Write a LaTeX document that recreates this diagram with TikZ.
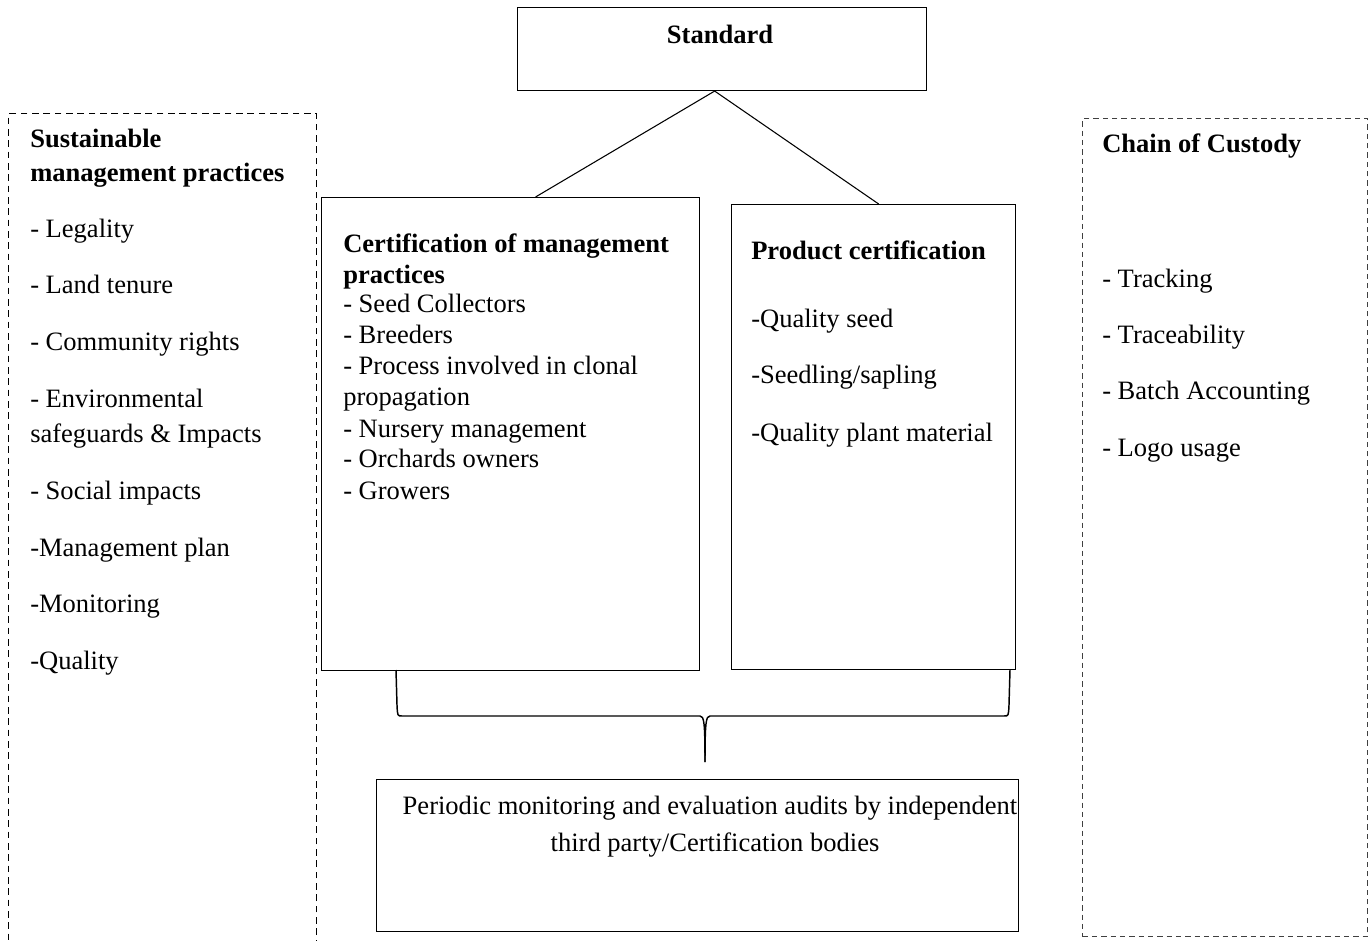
\documentclass[tikz,border=0pt]{standalone}
\usepackage{fontspec}
\setmainfont{Liberation Serif}
\usetikzlibrary{calc}
\begin{document}
\begin{tikzpicture}[x=0.75pt,y=-0.75pt,
  box/.style={draw, line width=0.8pt, inner sep=0pt, anchor=north west},
  leftdash/.style={draw, line width=1.1pt, dash pattern=on 5pt off 3.5pt, inner sep=0pt, anchor=north west},
  rightdash/.style={draw, black!75, line width=0.9pt, dash pattern=on 4pt off 3pt, inner sep=0pt, anchor=north west},
  txt/.style={anchor=base west, inner sep=0pt, font=\fontsize{19.9}{23}\selectfont},
  ctxt/.style={anchor=base, inner sep=0pt, font=\fontsize{19.9}{23}\selectfont},
  hd/.style={txt, font=\fontsize{19.9}{23}\selectfont\bfseries},
  link/.style={line width=0.8pt},
  brace/.style={line width=1.1pt}]
\useasboundingbox (0,0) rectangle (1372,941);

% boxes
\node[box, minimum width=306.75pt, minimum height=62.25pt] (std) at (517,7) {};
\node[box, minimum width=283.5pt, minimum height=354.75pt] (cert) at (321,197) {};
\node[box, minimum width=213pt, minimum height=348.75pt] (prod) at (731,204) {};
\node[box, minimum width=481.5pt, minimum height=114pt] (audit) at (376,779) {};
\node[leftdash, minimum width=231pt, minimum height=640pt] (smp) at (8,113) {};
\node[rightdash, minimum width=213.75pt, minimum height=613.5pt] (coc) at (1082,118) {};

% Standard
\node[ctxt, font=\fontsize{19.9}{23}\selectfont\bfseries] (stdt) at (720,44) {Standard};

% connectors from Standard
\coordinate (stdbot) at ($(std.south west)!0.482!(std.south east)$);
\coordinate (certtop) at ($(cert.north west)!0.566!(cert.north east)$);
\coordinate (prodtop) at ($(prod.north west)!0.518!(prod.north east)$);
\draw[link] (stdbot) -- (certtop);
\draw[link] (stdbot) -- (prodtop);

% left box text
\node[hd] (l0) at (30,148) {Sustainable};
\node[hd] (l1) at (30,182) {management practices};
\node[txt] (l2) at (30,238) {- Legality};
\node[txt] (l3) at (30,294) {- Land tenure};
\node[txt] (l4) at (30,351) {- Community rights};
\node[txt] (l5) at (30,407) {- Environmental};
\node[txt] (l6) at (30,443) {safeguards \& Impacts};
\node[txt] (l7) at (30,499) {- Social impacts};
\node[txt] (l8) at (30,556) {-Management plan};
\node[txt] (l9) at (30,612) {-Monitoring};
\node[txt] (l10) at (30,669) {-Quality};

% certification box text
\node[hd] (c0) at (343,253) {Certification of management};
\node[hd] (c1) at (343,284) {practices};
\node[txt] (c2) at (343,313) {- Seed Collectors};
\node[txt] (c3) at (343,344) {- Breeders};
\node[txt] (c4) at (343,375) {- Process involved in clonal};
\node[txt] (c5) at (343,406) {propagation};
\node[txt] (c6) at (343,437) {- Nursery management};
\node[txt] (c7) at (343,468) {- Orchards owners};
\node[txt] (c8) at (343,499) {- Growers};

% product box text
\node[hd] (p0) at (751,260) {Product certification};
\node[txt] (p1) at (751,328) {-Quality seed};
\node[txt] (p2) at (751,384) {-Seedling/sapling};
\node[txt] (p3) at (751,441) {-Quality plant material};

% chain of custody text
\node[hd] (r0) at (1102,153) {Chain of Custody};
\node[txt] (r1) at (1102,288) {- Tracking};
\node[txt] (r2) at (1102,344) {- Traceability};
\node[txt] (r3) at (1102,400) {- Batch Accounting};
\node[txt] (r4) at (1102,456) {- Logo usage};

% audit text
\node[ctxt] (a0) at (710,814) {Periodic monitoring and evaluation audits by independent};
\node[ctxt] (a1) at (715,851) {third party/Certification bodies};

% brace
\coordinate (bl) at (396,670);
\coordinate (br) at (1010,670);
\coordinate (btip) at (705,762);
\draw[brace] (bl) -- (397,705) .. controls (397.5,716) .. (402,716) -- (700,716)
  .. controls (704,716) and (705,722) .. (btip);
\draw[brace] (br) -- (1009,705) .. controls (1008.5,716) .. (1004,716) -- (710,716)
  .. controls (706,716) and (705,722) .. (btip);
\end{tikzpicture}
\end{document}
